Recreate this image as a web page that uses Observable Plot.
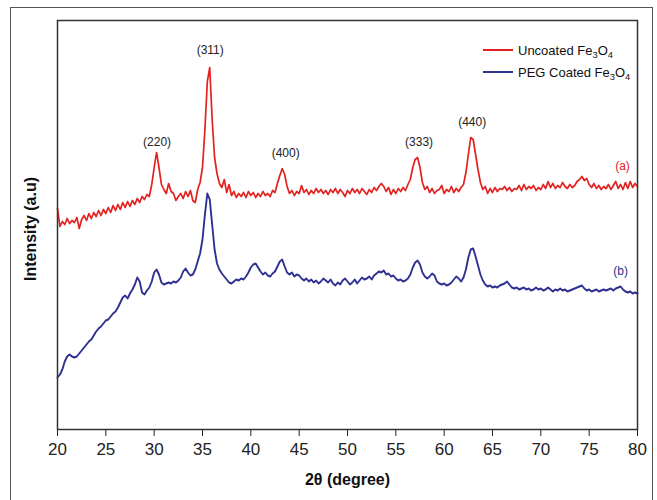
<!DOCTYPE html>
<html>
<head>
<meta charset="utf-8">
<script src="https://cdn.jsdelivr.net/npm/d3@7"></script>
<script src="https://cdn.jsdelivr.net/npm/@observablehq/plot@0.6"></script>
<style>
  html, body { margin: 0; padding: 0; background: #fff; overflow: hidden; }
  #wrap { position: relative; width: 657px; height: 500px; }
  #outer { position: absolute; left: 10px; top: 7px; width: 643px; height: 540px; border: 1.5px solid #555; box-sizing: border-box; pointer-events: none; }
  #legend { position: absolute; left: 483px; top: 39px; font-family: "Liberation Sans", Arial, sans-serif; font-size: 13px; color: #111; }
  #legend .row { display: flex; align-items: center; height: 22px; }
  #legend .swatch { width: 30px; height: 2px; margin-right: 5px; }
  #legend sub { font-size: 0.72em; vertical-align: -0.3em; line-height: 0; }
</style>
</head>
<body>
<div id="wrap">
  <div id="chart"></div>
  <div id="outer"></div>
  <div id="legend"></div>
</div>
<script>
// 2θ grid of the scan (0.25° step, 20°–80°)
const thetaStart = 20, thetaStep = 0.25;

// (a) Uncoated Fe3O4 intensity (a.u.)
const uncoated = [
  221,203,208,205,211,206,209,207,212,201,210,214,209,216,211,217,213,219,214,220,
  216,222,217,224,219,225,220,227,222,228,223,229,225,231,227,233,230,235,233,245,
  262,277,262,245,240,236,246,238,236,229,233,236,231,238,233,239,229,227,240,247,
  262,300,348,362,310,272,256,246,242,250,237,245,234,238,232,236,233,237,232,238,
  234,237,232,236,233,238,234,236,233,239,237,246,254,261,255,243,236,239,234,238,
  236,244,237,240,235,239,236,241,237,240,236,239,235,240,237,241,236,240,237,233,
  239,236,241,237,240,236,241,238,235,240,237,242,239,243,246,243,238,242,235,240,
  236,241,238,242,239,245,250,262,270,272,262,247,240,243,237,241,236,239,240,244,
  236,240,238,243,237,241,238,242,245,257,275,292,290,275,260,247,240,243,236,241,
  237,242,238,241,240,243,239,242,238,241,240,244,239,245,240,243,241,244,239,242,
  240,245,241,248,242,246,241,244,242,247,243,241,245,242,244,248,250,253,249,251,
  245,242,246,241,244,240,243,241,245,240,244,248,241,245,240,247,241,248,242,246,
  243
];

// (b) PEG coated Fe3O4 intensity (a.u.)
const pegCoated = [
  52,55,60,68,73,75,73,72,73,76,79,82,85,88,90,94,98,101,103,106,
  109,110,113,116,118,122,127,132,134,131,136,140,145,152,148,137,135,139,142,148,
  157,160,155,147,145,146,147,146,148,147,149,152,158,161,157,154,155,160,168,176,
  190,215,236,230,205,180,166,160,156,153,150,147,146,148,150,149,151,150,153,157,
  162,165,166,162,158,155,157,154,153,156,158,163,168,170,163,157,155,157,153,155,
  154,151,149,151,148,150,147,149,146,148,151,149,147,150,146,144,147,145,149,151,
  148,145,147,150,146,149,152,150,151,153,150,154,156,158,157,159,155,156,153,154,
  151,149,150,148,149,151,155,162,167,169,165,157,153,151,153,156,154,148,146,145,
  146,144,145,147,150,153,151,148,152,160,172,180,181,173,164,155,149,145,143,144,
  142,143,142,144,145,146,148,145,142,141,142,140,141,142,140,141,139,140,142,140,
  141,139,140,142,140,138,140,139,141,139,140,138,139,140,141,142,143,144,141,139,
  140,138,139,140,138,139,140,139,140,141,139,141,142,143,140,138,137,138,136,137,
  136
];

// peak (hkl) annotations
const peakLabels = ["(220)", "(311)", "(400)", "(333)", "(440)"];
const peakTheta = [30.3, 35.8, 43.6, 57.4, 62.9];
const peakLabelIntensity = [287, 379, 276, 287, 307];

// curve tags
const tagLabels = ["(a)", "(b)"];
const tagTheta = [78.45, 78.25];
const tagIntensity = [263, 158];

// x ticks
const xTicks = [20, 25, 30, 35, 40, 45, 50, 55, 60, 65, 70, 75, 80];

const seriesNames = ["Uncoated Fe3O4", "PEG Coated Fe3O4"];
const seriesColors = ["#e3211f", "#2e3192"];

const toRows = arr => arr.map((v, i) => ({theta: thetaStart + i * thetaStep, intensity: v}));
const rowsA = toRows(uncoated);
const rowsB = toRows(pegCoated);
const peaks = peakLabels.map((t, i) => ({label: t, theta: peakTheta[i], intensity: peakLabelIntensity[i]}));
const tags = tagLabels.map((t, i) => ({label: t, theta: tagTheta[i], intensity: tagIntensity[i], color: seriesColors[i]}));

const font = "'Liberation Sans', Arial, sans-serif";

const chart = Plot.plot({
  width: 657,
  height: 500,
  marginLeft: 57,
  marginRight: 20,
  marginTop: 20,
  marginBottom: 71,
  style: {fontFamily: font, fontSize: "17px", color: "#222", background: "transparent", overflow: "visible"},
  x: {domain: [20, 80], ticks: xTicks, tickSize: 7, tickPadding: 6, tickFormat: d => String(d), label: null},
  y: {domain: [0, 409], axis: null},
  marks: [
    Plot.line(rowsB, {x: "theta", y: "intensity", stroke: seriesColors[1], strokeWidth: 1.9}),
    Plot.line(rowsA, {x: "theta", y: "intensity", stroke: seriesColors[0], strokeWidth: 1.7}),
    Plot.frame({stroke: "#333", strokeWidth: 1.5}),
    Plot.text(peaks, {x: "theta", y: "intensity", text: "label", fontSize: 12, fill: "#222"}),
    Plot.text(tags, {x: "theta", y: "intensity", text: "label", fontSize: 12, fill: "color"}),
    Plot.text(["2θ (degree)"], {frameAnchor: "bottom", dy: 55, fontSize: 16, fontWeight: "bold", fill: "#111"}),
    Plot.text(["Intensity (a.u)"], {frameAnchor: "left", textAnchor: "middle", dx: -27, dy: 4, rotate: -90, fontSize: 16, fontWeight: "bold", fill: "#111"})
  ]
});
document.getElementById("chart").appendChild(chart);

// legend
const legend = document.getElementById("legend");
seriesNames.forEach((name, i) => {
  const row = document.createElement("div");
  row.className = "row";
  const sw = document.createElement("span");
  sw.className = "swatch";
  sw.style.background = seriesColors[i];
  const label = document.createElement("span");
  label.innerHTML = name.replace("Fe3O4", "Fe<sub>3</sub>O<sub>4</sub>");
  row.appendChild(sw);
  row.appendChild(label);
  legend.appendChild(row);
});
</script>
</body>
</html>
